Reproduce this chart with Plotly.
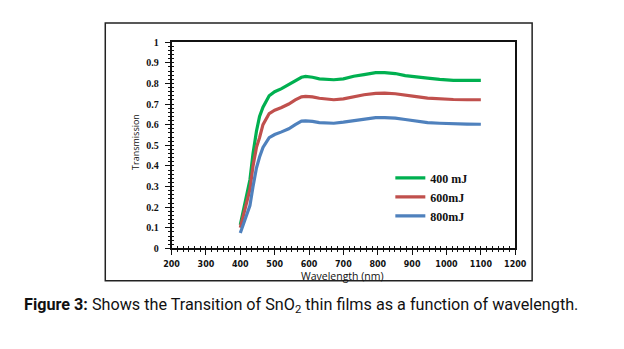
import plotly.graph_objects as go

# Optical transmission of SnO2 films deposited at three laser energies
wavelength = [400, 410, 420, 428, 437, 447, 456, 466, 484, 500, 520, 541, 560, 578,
              590, 610, 630, 653, 672, 700, 730, 760, 794, 820, 851, 880, 907, 945,
              980, 1020, 1060, 1100]
t_400mJ = [0.114, 0.19, 0.27, 0.333, 0.46, 0.568, 0.64, 0.685, 0.74, 0.76, 0.775, 0.795,
           0.815, 0.83, 0.834, 0.83, 0.822, 0.818, 0.818, 0.822, 0.835, 0.843, 0.852,
           0.852, 0.848, 0.838, 0.832, 0.826, 0.82, 0.815, 0.815, 0.815]
t_600mJ = [0.10, 0.17, 0.24, 0.286, 0.40, 0.49, 0.537, 0.60, 0.654, 0.67, 0.683, 0.70,
           0.72, 0.735, 0.737, 0.735, 0.728, 0.722, 0.721, 0.725, 0.735, 0.745, 0.752,
           0.753, 0.75, 0.742, 0.737, 0.729, 0.725, 0.722, 0.721, 0.721]
t_800mJ = [0.075, 0.12, 0.17, 0.208, 0.30, 0.39, 0.443, 0.49, 0.537, 0.552, 0.565, 0.58,
           0.60, 0.617, 0.618, 0.616, 0.61, 0.607, 0.607, 0.612, 0.62, 0.628, 0.634,
           0.634, 0.632, 0.625, 0.618, 0.61, 0.607, 0.604, 0.603, 0.602]

series_names = ["400 mJ", "600mJ", "800mJ"]
series_colors = ["#00b050", "#c0504d", "#4f81bd"]

x_ticks = [200, 300, 400, 500, 600, 700, 800, 900, 1000, 1100, 1200]
y_ticks = [0, 0.1, 0.2, 0.3, 0.4, 0.5, 0.6, 0.7, 0.8, 0.9, 1]

W, H = 624, 349


def px(x):
    return x / W


def py(y):
    return (H - y) / H


fig = go.Figure()
for name, vals, col in zip(series_names, [t_400mJ, t_600mJ, t_800mJ], series_colors):
    fig.add_trace(go.Scatter(x=wavelength, y=vals, mode="lines", name=name,
                             line=dict(color=col, width=3.2)))

# empty trace to activate the overlay axes used for inward ticks
fig.add_trace(go.Scatter(x=[None], y=[None], xaxis="x2", yaxis="y2",
                         showlegend=False, hoverinfo="skip"))

x_dom = [px(169), px(524)]
y_dom = [py(251), py(37.5)]
tick_font_x = dict(family="DejaVu Sans", size=8, color="#111", weight="bold")
tick_font_y = dict(family="Liberation Serif", size=10, color="#111", weight="bold")

fig.update_layout(
    width=W, height=H,
    margin=dict(l=0, r=0, t=0, b=0),
    paper_bgcolor="white", plot_bgcolor="white",
    showlegend=True,
    legend=dict(x=px(395), y=py(163), xanchor="left", yanchor="top",
                bgcolor="rgba(0,0,0,0)", tracegroupgap=0,
                font=dict(family="Liberation Serif", size=12, color="#111",
                          weight="bold")),
    xaxis=dict(domain=x_dom, range=[200, 1200], tickvals=x_ticks,
               showgrid=False, zeroline=False, showline=True, linecolor="#111",
               linewidth=1.5, mirror=True, ticks="outside", ticklen=5,
               tickcolor="#111", tickwidth=1, tickfont=tick_font_x,
               ticklabelstandoff=2,
               minor=dict(dtick=100 / 6, ticks="outside", ticklen=2,
                          tickcolor="#111", showgrid=False)),
    yaxis=dict(domain=y_dom, range=[0, 1], tickvals=y_ticks,
               ticktext=[f"{v:g}" for v in y_ticks],
               showgrid=False, zeroline=False, showline=True, linecolor="#111",
               linewidth=1.5, mirror=True, ticks="outside", ticklen=5,
               tickcolor="#111", tickwidth=1, tickfont=tick_font_y,
               ticklabelstandoff=4,
               minor=dict(dtick=0.02, ticks="outside", ticklen=2,
                          tickcolor="#111", showgrid=False)),
    xaxis2=dict(domain=x_dom, range=[200, 1200], overlaying="x", anchor="y2",
                showticklabels=False, showgrid=False, zeroline=False,
                tickvals=x_ticks, ticks="inside", ticklen=2, tickcolor="#111",
                minor=dict(dtick=100 / 6, ticks="inside", ticklen=2,
                           tickcolor="#111", showgrid=False)),
    yaxis2=dict(domain=y_dom, range=[0, 1], overlaying="y", anchor="x2",
                showticklabels=False, showgrid=False, zeroline=False,
                tickvals=y_ticks, ticks="inside", ticklen=2, tickcolor="#111",
                minor=dict(dtick=0.02, ticks="inside", ticklen=2,
                           tickcolor="#111", showgrid=False)),
)

# frame around the chart panel
fig.add_shape(type="rect", xref="paper", yref="paper",
              x0=px(100.5), x1=px(541.5), y0=py(284.5), y1=py(17.5),
              line=dict(color="#222", width=1.5))

fig.add_annotation(text="Wavelength (nm)", xref="paper", yref="paper",
                   x=px(346), y=py(279.5), xanchor="center", yanchor="middle",
                   showarrow=False,
                   font=dict(family="Open Sans", size=10.5, color="#111"))
fig.add_annotation(text="Transmission", xref="paper", yref="paper",
                   x=px(131), y=py(141), xanchor="center", yanchor="middle",
                   showarrow=False, textangle=-90,
                   font=dict(family="Open Sans", size=9, color="#111"))
fig.add_annotation(
    text="<b>Figure 3:</b> Shows the Transition of SnO<sub>2</sub> thin films as a function of wavelength.",
    xref="paper", yref="paper", x=px(14), y=py(323), xanchor="left", showarrow=False,
    font=dict(family="Roboto", size=16.2, color="#111"))

fig.write_html("out.html")
